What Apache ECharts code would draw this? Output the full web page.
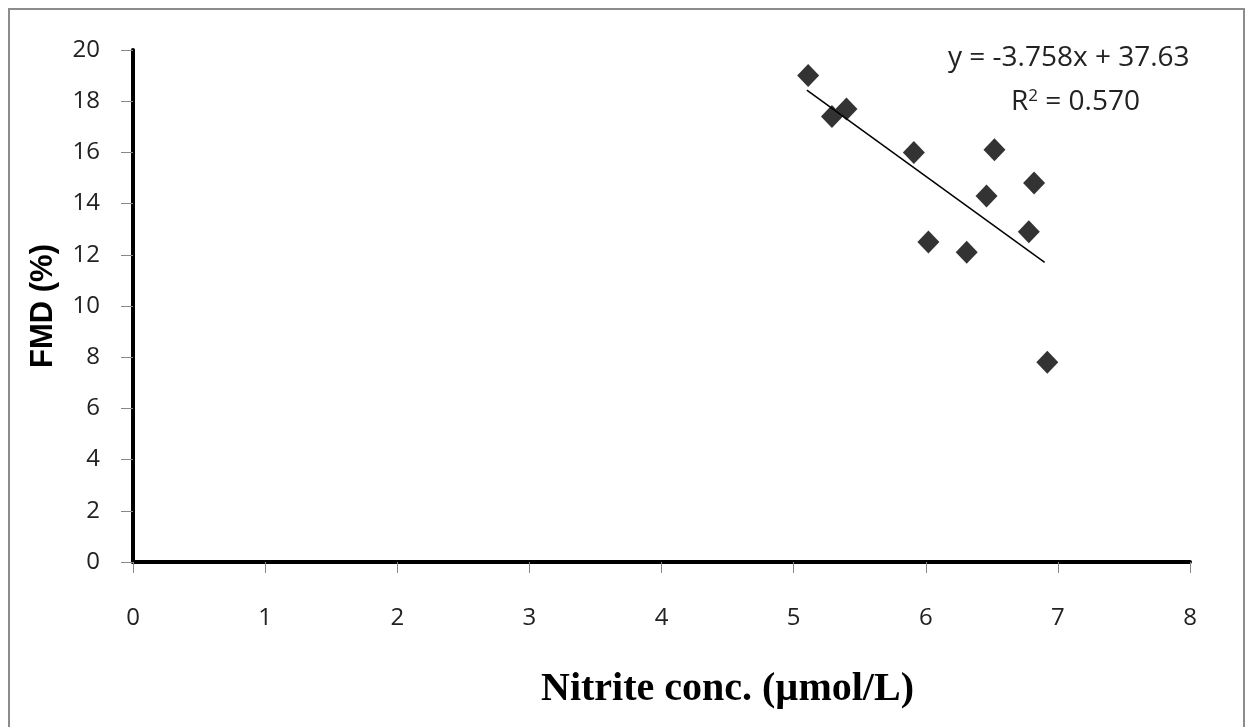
<!DOCTYPE html>
<html>
<head>
<meta charset="utf-8">
<script src="https://cdn.jsdelivr.net/npm/echarts@6/dist/echarts.min.js"></script>
<style>
  html, body { margin: 0; padding: 0; background: #fff; }
  #chart { width: 1246px; height: 727px; }
</style>
</head>
<body>
<div id="chart"></div>
<script>
// nitrite (x) vs FMD (y)
const nitrite = [5.11, 5.29, 5.40, 5.91, 6.52, 6.02, 6.31, 6.46, 6.82, 6.78, 6.92];
const fmd = [19.0, 17.4, 17.7, 16.0, 16.1, 12.5, 12.1, 14.3, 14.8, 12.9, 7.8];
// linear trend line end points
const trendX = [5.1, 6.9];
const trendY = [18.43, 11.70];
const equationText = ['y = -3.758x + 37.63', 'R{sup|2} = 0.570'];

const chart = echarts.init(document.getElementById('chart'));

const option = {
    backgroundColor: '#fff',
    animation: false,
    grid: {
        left: 133,
        right: 56,
        top: 50,
        bottom: 165
    },
    xAxis: {
        type: 'value',
        min: 0,
        max: 8,
        interval: 1,
        name: 'Nitrite conc. (µmol/L)',
        nameLocation: 'middle',
        nameGap: 108,
        nameTextStyle: {
            fontFamily: 'Liberation Serif',
            fontWeight: 'bold',
            fontSize: 40,
            color: '#000',
            // title sits right of the axis centre in the original
            padding: [0, 0, 0, 132]
        },
        axisLine: { lineStyle: { color: '#000', width: 4 } },
        axisTick: { length: 11, lineStyle: { color: '#888', width: 1 } },
        axisLabel: {
            margin: 44,
            fontFamily: 'Open Sans',
            fontSize: 24,
            color: '#222'
        },
        splitLine: { show: false }
    },
    yAxis: {
        type: 'value',
        min: 0,
        max: 20,
        interval: 2,
        name: 'FMD (%)',
        nameLocation: 'middle',
        nameGap: 74,
        nameTextStyle: {
            fontFamily: 'Liberation Sans',
            fontWeight: 'bold',
            fontSize: 31,
            color: '#000'
        },
        axisLine: { onZero: false, lineStyle: { color: '#000', width: 4 } },
        axisTick: { length: 12, lineStyle: { color: '#888', width: 1 } },
        axisLabel: {
            margin: 33,
            fontFamily: 'Open Sans',
            fontSize: 24,
            color: '#222'
        },
        splitLine: { show: false }
    },
    graphic: [
        {
            type: 'rect',
            shape: { x: 9, y: 9, width: 1235, height: 740 },
            style: { fill: 'none', stroke: '#8c8c8c', lineWidth: 2 },
            silent: true
        },
        {
            type: 'text',
            left: 948,
            top: 44,
            style: {
                text: equationText[0],
                fontFamily: 'Open Sans',
                fontSize: 28,
                fill: '#222'
            }
        },
        {
            type: 'text',
            left: 1011,
            top: 88,
            style: {
                text: equationText[1],
                fontFamily: 'Open Sans',
                fontSize: 28,
                fill: '#222',
                rich: {
                    sup: { fontSize: 17, verticalAlign: 'top', padding: [0, 0, 12, 0], fill: '#222', fontFamily: 'Open Sans' }
                }
            }
        }
    ],
    series: [
        {
            type: 'line',
            data: trendX.map((x, i) => [x, trendY[i]]),
            symbol: 'none',
            lineStyle: { color: '#000', width: 1.5 },
            z: 2
        },
        {
            type: 'scatter',
            data: nitrite.map((x, i) => [x, fmd[i]]),
            symbol: 'diamond',
            symbolSize: [22, 23],
            itemStyle: { color: '#000' },
            z: 3
        }
    ]
};

chart.setOption(option);
</script>
</body>
</html>
